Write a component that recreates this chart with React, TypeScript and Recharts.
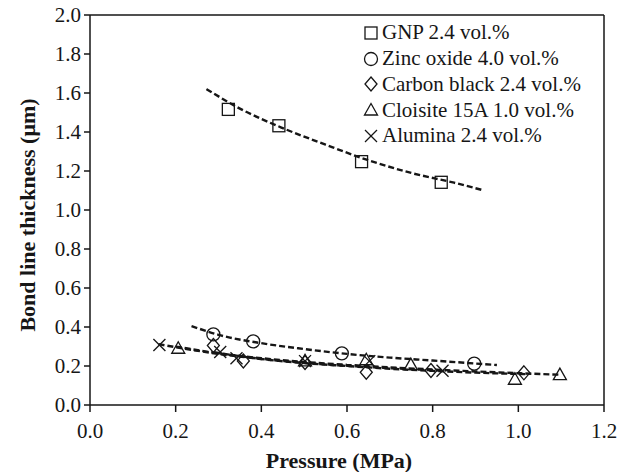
import React from 'react';
import { ScatterChart, Scatter, XAxis, YAxis, ReferenceLine, Legend, Label } from 'recharts';

const FONT = '"Liberation Serif", "Times New Roman", serif';
const INK = '#161616';

// Measured points (pressure MPa, thickness µm)
const gnpX = [0.323, 0.441, 0.634, 0.82];
const gnpY = [1.516, 1.432, 1.248, 1.142];
const znoX = [0.288, 0.381, 0.588, 0.897];
const znoY = [0.362, 0.326, 0.265, 0.212];
const cbX = [0.288, 0.358, 0.502, 0.645, 0.796, 1.013];
const cbY = [0.305, 0.226, 0.218, 0.168, 0.177, 0.165];
const clX = [0.206, 0.502, 0.645, 0.749, 0.992, 1.097];
const clY = [0.291, 0.226, 0.232, 0.207, 0.132, 0.156];
const alX = [0.162, 0.304, 0.342, 0.502, 0.652, 0.823];
const alY = [0.308, 0.272, 0.24, 0.225, 0.225, 0.176];

// Trend curves
const gnpTX = [0.272, 0.35, 0.45, 0.55, 0.65, 0.75, 0.85, 0.92];
const gnpTY = [1.62, 1.52, 1.42, 1.335, 1.255, 1.19, 1.14, 1.1];
const znoTX = [0.237, 0.3, 0.4, 0.5, 0.6, 0.7, 0.8, 0.95];
const znoTY = [0.405, 0.36, 0.317, 0.287, 0.262, 0.243, 0.228, 0.205];
const cbTX = [0.29, 0.4, 0.5, 0.6, 0.7, 0.8, 0.9, 1.02];
const cbTY = [0.27, 0.236, 0.215, 0.2, 0.186, 0.175, 0.166, 0.158];
const clTX = [0.2, 0.3, 0.4, 0.5, 0.6, 0.7, 0.8, 0.9, 1.0, 1.1];
const clTY = [0.3, 0.265, 0.24, 0.221, 0.206, 0.193, 0.182, 0.172, 0.163, 0.155];
const alTX = [0.16, 0.3, 0.4, 0.5, 0.6, 0.7, 0.83];
const alTY = [0.312, 0.262, 0.236, 0.216, 0.201, 0.189, 0.175];

const xTicks = [0, 0.2, 0.4, 0.6, 0.8, 1.0, 1.2];
const yTicks = [0, 0.2, 0.4, 0.6, 0.8, 1.0, 1.2, 1.4, 1.6, 1.8, 2.0];

const legendNames = [
  'GNP 2.4 vol.%',
  'Zinc oxide 4.0 vol.%',
  'Carbon black 2.4 vol.%',
  'Cloisite 15A 1.0 vol.%',
  'Alumina 2.4 vol.%',
];

const zip = (xs: number[], ys: number[]) => xs.map((x, i) => ({ x, y: ys[i] }));

type MP = { cx?: number; cy?: number };
const SW = 1.3;
const drawShape = (kind: string, cx: number, cy: number) => {
  switch (kind) {
    case 'square':
      return <rect x={cx - 6} y={cy - 6} width={12} height={12} fill="none" stroke={INK} strokeWidth={SW} />;
    case 'circle':
      return <circle cx={cx} cy={cy} r={6.5} fill="none" stroke={INK} strokeWidth={SW} />;
    case 'diamond':
      return (
        <polygon
          points={`${cx},${cy - 7} ${cx + 6},${cy} ${cx},${cy + 7} ${cx - 6},${cy}`}
          fill="none"
          stroke={INK}
          strokeWidth={SW}
        />
      );
    case 'triangle':
      return (
        <polygon
          points={`${cx},${cy - 6.5} ${cx + 6.5},${cy + 5} ${cx - 6.5},${cy + 5}`}
          fill="none"
          stroke={INK}
          strokeWidth={SW}
        />
      );
    default:
      return (
        <g stroke={INK} strokeWidth={SW}>
          <line x1={cx - 6} y1={cy - 6} x2={cx + 6} y2={cy + 6} />
          <line x1={cx - 6} y1={cy + 6} x2={cx + 6} y2={cy - 6} />
        </g>
      );
  }
};
const mk = (kind: string) => (p: MP) => drawShape(kind, p.cx ?? 0, p.cy ?? 0);
const Empty = () => <g />;

const kinds = ['square', 'circle', 'diamond', 'triangle', 'x'];

const LegendBox = () => (
  <div style={{ fontFamily: FONT, fontSize: 21, color: INK }}>
    {legendNames.map((n, i) => (
      <div key={n} style={{ display: 'flex', alignItems: 'center', height: 25.75, whiteSpace: 'nowrap' }}>
        <svg width={16} height={16} style={{ flex: 'none' }}>
          {drawShape(kinds[i], 8, 8)}
        </svg>
        <span style={{ marginLeft: 3, lineHeight: '25px' }}>{n}</span>
      </div>
    ))}
  </div>
);

const lineStyle = { stroke: INK, strokeWidth: 2.4, strokeDasharray: '6 3' };

export default function App() {
  const tickStyle = { fontFamily: FONT, fontSize: 21, fill: INK };
  return (
    <div style={{ position: 'absolute', left: 0, top: 0, background: '#fff' }}>
      <ScatterChart width={636} height={472} margin={{ top: 15, right: 32, bottom: 0, left: 0 }}>
        <XAxis
          type="number"
          dataKey="x"
          domain={[0, 1.2]}
          ticks={xTicks}
          tickFormatter={(v: number) => v.toFixed(1)}
          height={67}
          tick={tickStyle}
          tickSize={7}
          tickMargin={11}
          stroke={INK}
          strokeWidth={1.5}
          allowDataOverflow
        >
          <Label
            content={() => (
              <text x={339} y={468} textAnchor="middle" fontFamily={FONT} fontSize={22} fontWeight="bold" fill={INK}>
                Pressure (MPa)
              </text>
            )}
          />
        </XAxis>
        <YAxis
          type="number"
          dataKey="y"
          domain={[0, 2]}
          ticks={yTicks}
          tickFormatter={(v: number) => v.toFixed(1)}
          width={90}
          tick={tickStyle}
          tickSize={6}
          tickMargin={3}
          stroke={INK}
          strokeWidth={1.5}
          allowDataOverflow
        >
          <Label
            content={() => (
              <text
                x={0}
                y={0}
                transform="translate(35 215) rotate(-90)"
                textAnchor="middle"
                fontFamily={FONT}
                fontSize={22}
                fontWeight="bold"
                fill={INK}
              >
                Bond line thickness (μm)
              </text>
            )}
          />
        </YAxis>
        <ReferenceLine y={2} stroke={INK} strokeWidth={1.5} />
        <ReferenceLine x={1.2} stroke={INK} strokeWidth={1.5} />

        <Scatter data={zip(gnpTX, gnpTY)} line={lineStyle} lineType="joint" lineJointType="monotoneX" shape={Empty} isAnimationActive={false} legendType="none" />
        <Scatter data={zip(znoTX, znoTY)} line={lineStyle} lineType="joint" lineJointType="monotoneX" shape={Empty} isAnimationActive={false} legendType="none" />
        <Scatter data={zip(cbTX, cbTY)} line={lineStyle} lineType="joint" lineJointType="monotoneX" shape={Empty} isAnimationActive={false} legendType="none" />
        <Scatter data={zip(clTX, clTY)} line={lineStyle} lineType="joint" lineJointType="monotoneX" shape={Empty} isAnimationActive={false} legendType="none" />
        <Scatter data={zip(alTX, alTY)} line={lineStyle} lineType="joint" lineJointType="monotoneX" shape={Empty} isAnimationActive={false} legendType="none" />

        <Scatter name={legendNames[0]} data={zip(gnpX, gnpY)} shape={mk('square')} isAnimationActive={false} />
        <Scatter name={legendNames[1]} data={zip(znoX, znoY)} shape={mk('circle')} isAnimationActive={false} />
        <Scatter name={legendNames[2]} data={zip(cbX, cbY)} shape={mk('diamond')} isAnimationActive={false} />
        <Scatter name={legendNames[3]} data={zip(clX, clY)} shape={mk('triangle')} isAnimationActive={false} />
        <Scatter name={legendNames[4]} data={zip(alX, alY)} shape={mk('x')} isAnimationActive={false} />

        <Legend
          layout="vertical"
          align="center"
          verticalAlign="middle"
          content={() => <LegendBox />}
          wrapperStyle={{ left: 363, top: 20, width: 'auto', height: 'auto' }}
        />
      </ScatterChart>
    </div>
  );
}
